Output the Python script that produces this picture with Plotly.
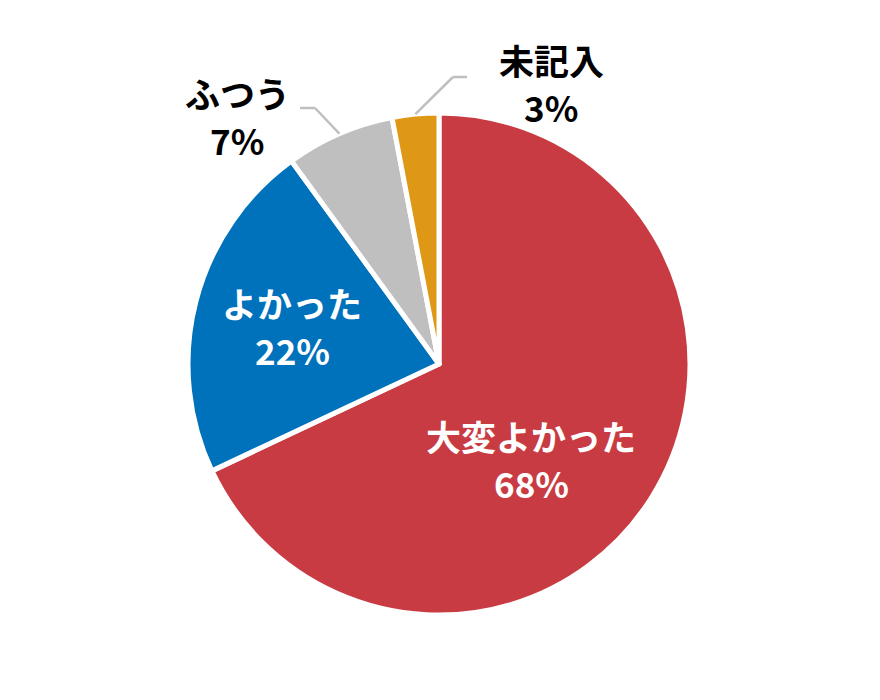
import math
import plotly.graph_objects as go

# アンケート結果
labels = ["大変よかった", "よかった", "ふつう", "未記入"]
values = [68, 22, 7, 3]
colors = ["#C83B42", "#0071BB", "#BFBFBF", "#DF9716"]
text_col = ["white", "white", "black", "black"]

W, H = 880, 700
OFF = 8                                  # ページの body 余白
L, T, SIZE = 188 - OFF, 113 - OFF, 502   # 円の描画領域 (px)
R, B = W - L - SIZE, H - T - SIZE
CX, CY, RAD = 439, 364, 251              # 画面上の円の中心 / 半径

FONT = "Noto Sans CJK JP, Noto Sans, sans-serif"


def to_paper(px, py):
    # 画面上の px 座標 -> paper 座標
    return (px - OFF - L) / SIZE, (T + SIZE - (py - OFF)) / SIZE


trace = go.Pie(
    labels=labels,
    values=values,
    sort=False,
    direction="clockwise",
    rotation=0,
    marker=dict(colors=colors, line=dict(color="white", width=5)),
    textinfo="none",
    hoverinfo="label+percent",
    showlegend=False,
)
fig = go.Figure(data=[trace])

# ラベル位置 (画面 px): x, ラベル行の y, 数値行の y
label_pos = [(531, 435, 482), (292, 302, 349), (237, 92, 139), (551, 59, 106)]
# 引き出し線 (外側ラベルのみ): 肘の位置とラベル側の端
leader = {2: [(315, 108), (300, 108)], 3: [(453, 77), (467, 77)]}

total = sum(values)
cum = 0
for i, (lab, v) in enumerate(zip(labels, values)):
    mid = (cum + v / 2) / total * 2 * math.pi
    cum += v
    px, py1, py2 = label_pos[i]
    x, y1 = to_paper(px, py1)
    _, y2 = to_paper(px, py2)
    for yy, txt in ((y1, lab), (y2, f"{v}%")):
        fig.add_annotation(
            x=x, y=yy, xref="paper", yref="paper", showarrow=False,
            xanchor="center", yanchor="middle", height=38,
            text=f"<b>{txt}</b>",
            font=dict(family=FONT, size=35, color=text_col[i]),
        )
    if i in leader:
        sx = CX + RAD * math.sin(mid)
        sy = CY - RAD * math.cos(mid)
        pts = [(sx, sy)] + leader[i]
        for (ax, ay), (bx, by) in zip(pts[:-1], pts[1:]):
            x0, y0 = to_paper(ax, ay)
            x1, y1 = to_paper(bx, by)
            fig.add_shape(type="line", xref="paper", yref="paper",
                          x0=x0, y0=y0, x1=x1, y1=y1,
                          line=dict(color="#BFBFBF", width=2.5))

fig.update_layout(
    width=W,
    height=H,
    margin=dict(l=L, r=R, t=T, b=B),
    paper_bgcolor="white",
    plot_bgcolor="white",
)
fig.write_html("out.html")
